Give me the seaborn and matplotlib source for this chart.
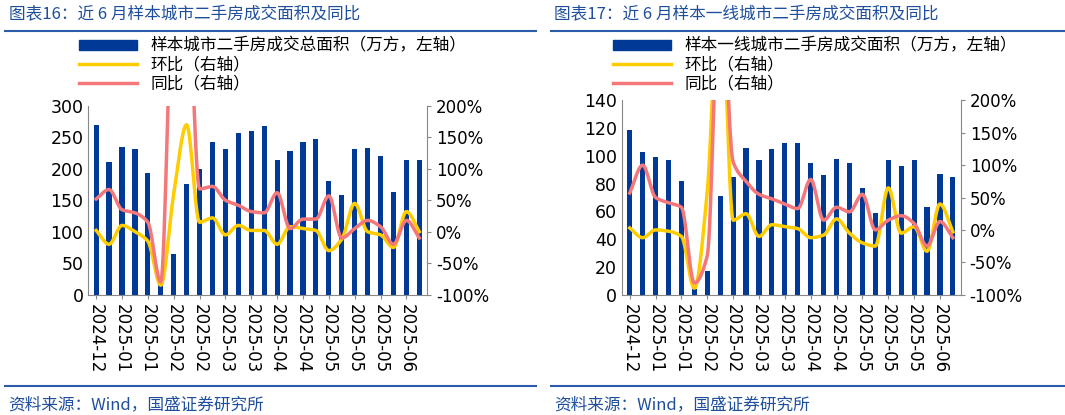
import numpy as np
import pandas as pd
import matplotlib
matplotlib.use("Agg")
import matplotlib.pyplot as plt
import seaborn as sns

plt.rcParams["font.family"] = ["Noto Sans CJK SC", "DejaVu Sans"]

tick_labels = ["2024-12", "2025-01", "2025-01", "2025-02", "2025-02", "2025-03", "2025-03",
               "2025-04", "2025-04", "2025-05", "2025-05", "2025-05", "2025-06"]

left_area = [270, 210, 235, 231, 193, 20, 65, 176, 200, 243, 231, 257, 260, 268, 214, 229, 243, 247,
             180, 159, 231, 233, 220, 163, 214, 214]
left_mom = [2, -20, 10, 0, -15, -85, 60, 170, 15, 22, -5, 10, 2, 2, -20, 8, 5, 2, -30, -12, 45, 0,
            -5, -25, 32, 0]
left_yoy = [52, 67, 35, 30, 15, -80, 400, 400, 68, 72, 50, 42, 32, 30, 62, 5, 20, 20, 57, -10, 5,
            18, 8, -20, 18, -10]

right_area = [119, 103, 99, 97, 82, 4, 17, 71, 85, 106, 97, 105, 109, 109, 95, 86, 98, 95, 77, 59,
              97, 93, 97, 63, 87, 85]
right_mom = [3, -12, 0, -2, -10, -90, 60, 400, 15, 25, -10, 8, 5, 2, -12, -8, 17, -5, -20, -25, 65,
             -5, 5, -33, 40, -3]
right_yoy = [57, 100, 50, 42, 35, -82, -40, 400, 105, 75, 55, 48, 40, 33, 78, 15, 35, 28, 55, 0, 15,
             22, 10, -25, 13, -12]

BLUE = "#003a96"
YEL = "#ffcc00"
PINK = "#f4777a"
TXT = "#1f4f9c"


def smooth(y, n=16):
    # monotone cubic (Fritsch-Carlson) drawing curve through the given points
    y = np.asarray(y, float)
    N = len(y)
    d = np.diff(y)
    m = np.zeros(N)
    m[0], m[-1] = d[0], d[-1]
    for i in range(1, N - 1):
        if d[i - 1] * d[i] <= 0:
            m[i] = 0.0
        else:
            m[i] = 2.0 / (1.0 / d[i - 1] + 1.0 / d[i])
    xs, ys = [], []
    for i in range(N - 1):
        t = np.linspace(0, 1, n, endpoint=False)
        h00 = 2 * t ** 3 - 3 * t ** 2 + 1
        h10 = t ** 3 - 2 * t ** 2 + t
        h01 = -2 * t ** 3 + 3 * t ** 2
        h11 = t ** 3 - t ** 2
        xs.append(i + t)
        ys.append(h00 * y[i] + h10 * m[i] + h01 * y[i + 1] + h11 * m[i + 1])
    xs.append([N - 1])
    ys.append([y[-1]])
    return np.concatenate(xs), np.concatenate(ys)


fig = plt.figure(figsize=(10.65, 4.15), dpi=100)


def panel(rect, area, mom, yoy, ymax, ystep, title, bar_label, title_x):
    ax = fig.add_axes(rect)
    df = pd.DataFrame({"i": np.arange(len(area)), "v": area})
    sns.barplot(data=df, x="i", y="v", color=BLUE, width=0.4, ax=ax, saturation=1,
                native_scale=True, label=bar_label, legend=False)
    if ax.get_legend() is not None:
        ax.get_legend().remove()
    ax.set_xlim(-0.6, len(area) - 0.4)
    ax.set_ylim(0, ymax)
    ax.set_yticks(np.arange(0, ymax + 1, ystep))
    ax.set_xticks(np.arange(0, 2 * len(tick_labels), 2))
    ax.set_xticklabels(tick_labels, rotation=-90, fontsize=12, family="DejaVu Sans")
    ax.set_xlabel("")
    ax.set_ylabel("")
    ax.tick_params(axis="y", labelsize=12.5, length=0)
    ax.tick_params(axis="x", length=3, color="#888888")
    for lab in ax.get_yticklabels():
        lab.set_family("DejaVu Sans")
    for s in ["top", "right"]:
        ax.spines[s].set_visible(False)
    ax.spines["left"].set_color("#888888")
    ax.spines["bottom"].set_color("#888888")
    ax2 = ax.twinx()
    x, y = smooth(mom)
    ax2.plot(x, y, color=YEL, lw=2.5, label="环比（右轴）")
    x, y = smooth(yoy)
    ax2.plot(x, y, color=PINK, lw=2.5, label="同比（右轴）")
    ax2.set_ylim(-100, 200)
    ax2.set_yticks(np.arange(-100, 201, 50))
    ax2.set_yticklabels([f"{v}%" for v in range(-100, 201, 50)], fontsize=12, family="DejaVu Sans")
    ax2.tick_params(axis="y", length=3, color="#888888")
    for s in ["top", "left", "bottom"]:
        ax2.spines[s].set_visible(False)
    ax2.spines["right"].set_color("#888888")
    h1 = [plt.Rectangle((0, 0), 1, 1, color=BLUE)]
    h2, l2 = ax2.get_legend_handles_labels()
    fig.legend(h1 + h2, [bar_label] + l2, loc="upper left",
               bbox_to_anchor=(rect[0] - 0.015, 0.925), frameon=False, fontsize=12,
               handlelength=3.5, handleheight=0.5, labelspacing=0.1, borderaxespad=0)
    fig.text(title_x, 0.965, title, color=TXT, fontsize=12, style="italic", va="center")
    fig.text(title_x, 0.025, "资料来源：Wind，国盛证券研究所", color=TXT, fontsize=12,
             style="italic", va="center")
    fig.add_artist(plt.Line2D([title_x - 0.003, title_x + 0.495], [0.925, 0.925],
                              color="#2a5caa", lw=1.5))
    fig.add_artist(plt.Line2D([title_x - 0.003, title_x + 0.495], [0.07, 0.07],
                              color="#2a5caa", lw=1.5))


panel([0.083, 0.29, 0.318, 0.455], left_area, left_mom, left_yoy, 300, 50,
      "图表16：近 6 月样本城市二手房成交面积及同比", "样本城市二手房成交总面积（万方，左轴）", 0.008)
panel([0.584, 0.29, 0.318, 0.468], right_area, right_mom, right_yoy, 140, 20,
      "图表17：近 6 月样本一线城市二手房成交面积及同比", "样本一线城市二手房成交面积（万方，左轴）", 0.52)

fig.savefig("out.png", dpi=100)
